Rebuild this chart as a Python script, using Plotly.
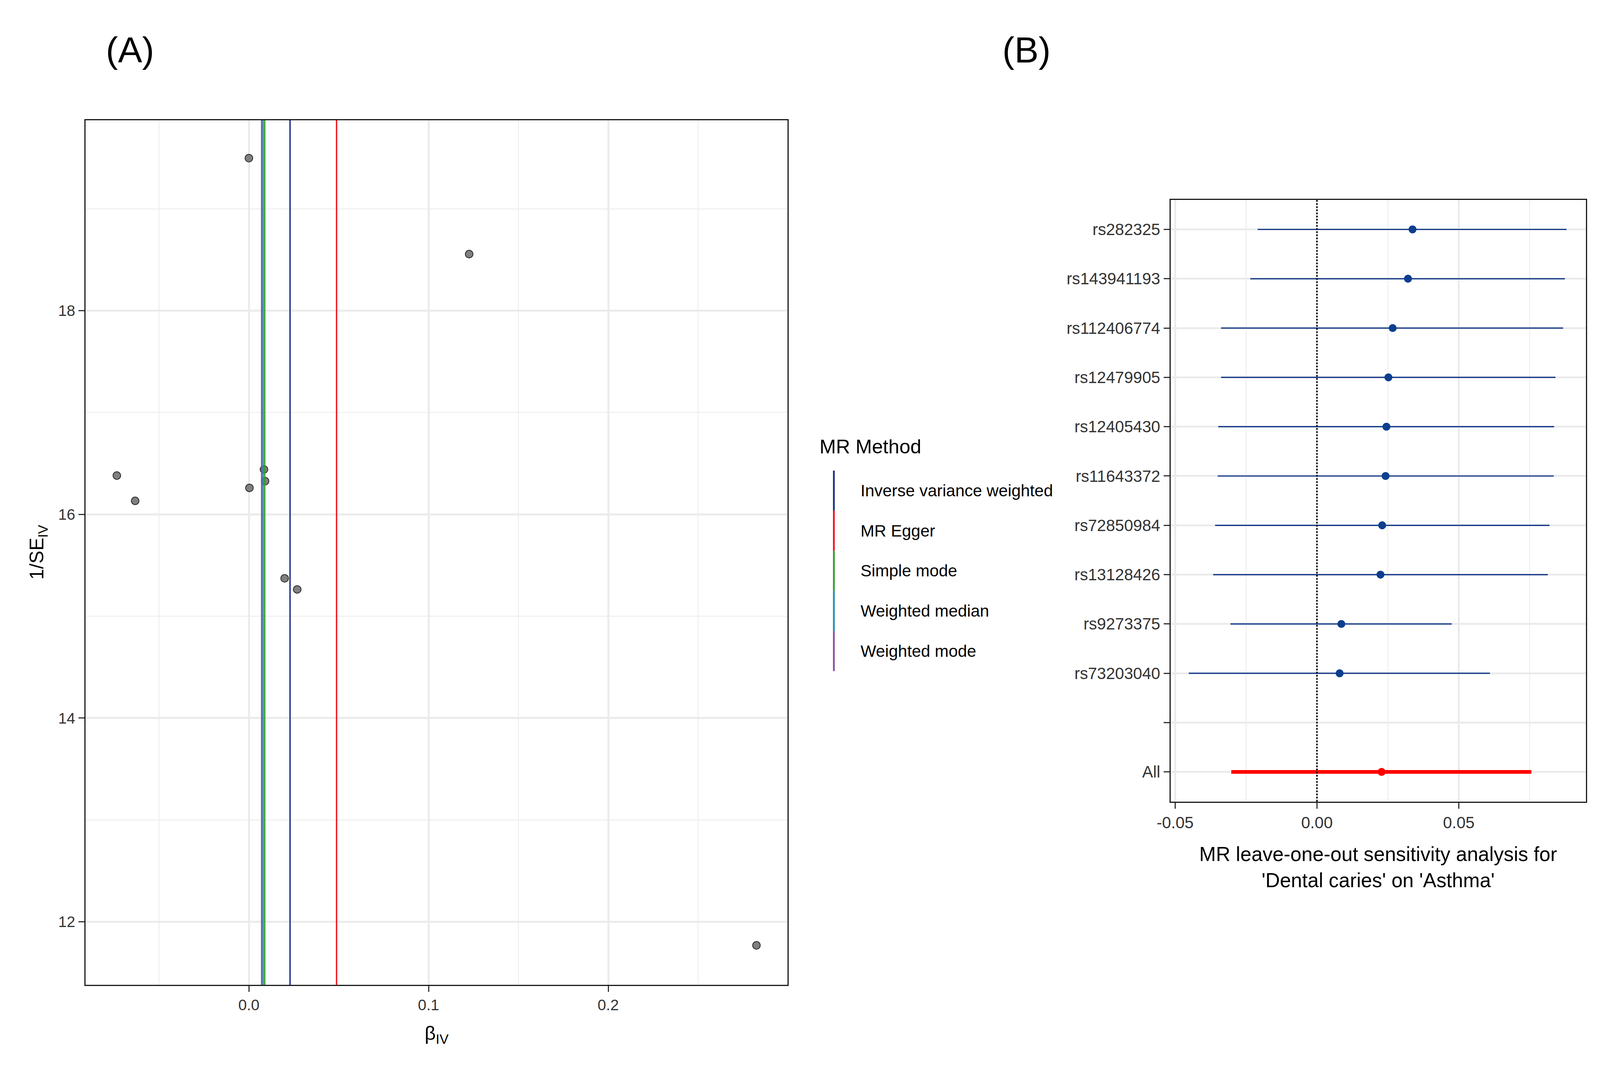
import plotly.graph_objects as go

FONT = "Liberation Sans, Arial, sans-serif"
W, H = 5191, 2735            # reference picture size (positions below are read in these pixels)
VIEW_W, VIEW_H = 4096, 2735  # what the photographed window actually shows
FW, FH = VIEW_W - 18, VIEW_H - 18
SX = VIEW_W / W              # horizontal squeeze
SF = 0.80                    # font squeeze (keeps label widths close to the reference)


def px(v, s=0.85):
    return v * s


# ---- panel A: funnel plot ----
beta_iv = [0.0000, 0.1226, -0.0735, -0.0633, 0.0003, 0.0084, 0.0090, 0.0199, 0.0269, 0.2825]
inv_se = [19.498, 18.556, 16.381, 16.133, 16.260, 16.441, 16.326, 15.372, 15.263, 11.768]

methods = ["Inverse variance weighted", "MR Egger", "Simple mode",
           "Weighted median", "Weighted mode"]
method_b = [0.0229, 0.0488, 0.0088, 0.0079, 0.0071]
method_colors = ["#1c2f86", "#f0141e", "#2ca02c", "#1f8fb4", "#8e4f9f"]

# ---- panel B: leave-one-out ----
snps = ["rs282325", "rs143941193", "rs112406774", "rs12479905", "rs12405430",
        "rs11643372", "rs72850984", "rs13128426", "rs9273375", "rs73203040"]
loo_b = [0.0337, 0.0321, 0.0267, 0.0252, 0.0245, 0.0242, 0.0230, 0.0224, 0.0086, 0.0080]
loo_lo = [-0.0209, -0.0235, -0.0338, -0.0338, -0.0348, -0.0350, -0.0359, -0.0366, -0.0305, -0.0452]
loo_hi = [0.0880, 0.0874, 0.0868, 0.0841, 0.0836, 0.0835, 0.0820, 0.0814, 0.0475, 0.0610]
all_b, all_lo, all_hi = 0.0228, -0.0302, 0.0756

b_labels = snps + [" ", "All"]
b_pos = list(range(len(b_labels), 0, -1))   # top to bottom

fig = go.Figure()

fig.add_trace(go.Scatter(
    x=beta_iv, y=inv_se, mode="markers", xaxis="x", yaxis="y",
    marker=dict(size=px(23), color="#808080", line=dict(color="#2b2b2b", width=2)),
    showlegend=False, hoverinfo="x+y"))

# method estimates as vertical lines
for b, c in zip(method_b, method_colors):
    fig.add_shape(type="line", xref="x", yref="y domain", x0=b, x1=b, y0=0, y1=1,
                  line=dict(color=c, width=px(4.5, SX)))

# panel B
fig.add_shape(type="line", xref="x2 domain", yref="y2", x0=0, x1=1,
              y0=b_pos[len(snps)], y1=b_pos[len(snps)],
              line=dict(color="#b3b3b3", width=4), layer="below")
fig.add_shape(type="line", xref="x2", yref="y2 domain", x0=0, x1=0, y0=0, y1=1,
              line=dict(color="black", width=4, dash="dot"))

fig.add_trace(go.Scatter(
    x=loo_b, y=b_pos[:len(snps)], mode="markers", xaxis="x2", yaxis="y2",
    marker=dict(size=px(24)),
    marker_color="#0d3f8f",
    error_x=dict(type="data", symmetric=False,
                 array=[h - b for h, b in zip(loo_hi, loo_b)],
                 arrayminus=[b - l for l, b in zip(loo_lo, loo_b)],
                 color="#163a8a", thickness=3.2, width=0),
    showlegend=False))

fig.add_trace(go.Scatter(
    x=[all_b], y=[b_pos[-1]], mode="markers", xaxis="x2", yaxis="y2",
    marker=dict(size=px(24), color="#ff0000"),
    error_x=dict(type="data", symmetric=False, array=[all_hi - all_b],
                 arrayminus=[all_b - all_lo], color="#ff0000", thickness=9.5, width=0),
    showlegend=False))

axis_common = dict(
    showline=True, linecolor="#1a1a1a", linewidth=3.2, mirror=True,
    ticks="outside", ticklen=15, tickwidth=3.2, tickcolor="#333333",
    showgrid=True, gridcolor="#ebebeb", gridwidth=4.5, zeroline=False,
)
minor_grid = dict(showgrid=True, gridcolor="#ebebeb", gridwidth=2.2, ticks="")

fig.update_layout(
    width=FW, height=FH, margin=dict(l=0, r=0, t=0, b=0),
    paper_bgcolor="white", plot_bgcolor="white",
    font=dict(family=FONT, color="black"),
    showlegend=False,
    xaxis=dict(axis_common, domain=[0.0432, 0.488], range=[-0.0910, 0.2999],
               tickvals=[0, 0.1, 0.2], ticktext=["0.0", "0.1", "0.2"],
               tickfont=dict(size=px(49, SF), color="#333333"),
               minor=dict(minor_grid, tickvals=[-0.05, 0.05, 0.15, 0.25])),
    yaxis=dict(axis_common, domain=[0.0746, 0.8896], range=[11.379, 19.870],
               tickvals=[12, 14, 16, 18], tickfont=dict(size=px(49, SF), color="#333333"),
               minor=dict(minor_grid, tickvals=[13, 15, 17, 19])),
    xaxis2=dict(axis_common, domain=[0.7305, 0.9935], range=[-0.0516, 0.0948],
                anchor="y2",
                tickvals=[-0.05, 0, 0.05], ticktext=["-0.05", "0.00", "0.05"],
                tickfont=dict(size=px(52, SF), color="#333333"),
                minor=dict(minor_grid, tickvals=[-0.025, 0.025, 0.075])),
    yaxis2=dict(axis_common, domain=[0.2475, 0.8146], range=[0.4, len(b_labels) + 0.6],
                anchor="x2", tickvals=b_pos, ticktext=b_labels,
                tickfont=dict(size=px(52, SF), color="#333333")),
)

ann = []
ann.append(dict(text="(A)", x=0.0715, y=0.9558, font=dict(size=px(116, SF))))
ann.append(dict(text="(B)", x=0.6392, y=0.9558, font=dict(size=px(116, SF))))
ann.append(dict(text="β<sub>IV</sub>", x=0.2655, y=0.0278, font=dict(size=px(62, SF))))
ann.append(dict(text="1/SE<sub>IV</sub>", x=0.0131, y=0.4823, textangle=-90,
                font=dict(size=px(62, SF))))
ann.append(dict(text="MR leave-one-out sensitivity analysis for<br>'Dental caries' on 'Asthma'",
                x=0.8619, y=0.1854, font=dict(size=px(64, SF))))

# custom legend (vertical line keys)
ann.append(dict(text="MR Method", x=2635 / W, y=1 - 1143 / H, xanchor="left",
                font=dict(size=px(63, SF))))
key_top, key_h = 1205, 103.4
for i, (m, c) in enumerate(zip(methods, method_colors)):
    y0 = key_top + i * key_h
    fig.add_shape(type="line", xref="paper", yref="paper",
                  x0=2685 / W, x1=2685 / W, y0=1 - y0 / H, y1=1 - (y0 + key_h) / H,
                  line=dict(color=c, width=4.5))
    ann.append(dict(text=m, x=2770 / W, y=1 - (y0 + key_h / 2) / H, xanchor="left",
                    font=dict(size=px(53, SF))))

for a in ann:
    a.setdefault("xanchor", "center")
    a.update(xref="paper", yref="paper", showarrow=False, yanchor="middle")
    a["font"] = dict(family=FONT, color="black", **a["font"])
fig.update_layout(annotations=ann)

fig.write_html("out.html")
